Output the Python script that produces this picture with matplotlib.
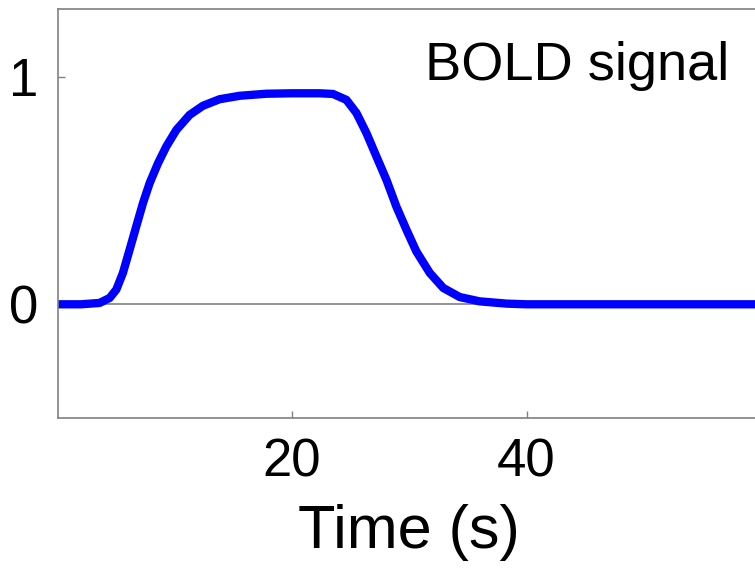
import matplotlib.pyplot as plt
from matplotlib import font_manager

# points
time_s = [0, 2.0, 3.59, 4.45, 5.02, 5.58, 6.15, 6.72, 7.29, 7.86, 8.57, 9.28,
          10.14, 11.27, 12.4, 13.83, 15.54, 17.8, 20.0, 22.36, 23.5, 24.64,
          25.5, 26.35, 27.2, 28.05, 28.9, 29.76, 30.6, 31.75, 32.9, 34.3,
          36.0, 38.3, 40.0, 45, 50, 55, 60]
bold = [0, 0, 0.006, 0.028, 0.065, 0.138, 0.24, 0.343, 0.445, 0.533, 0.62,
        0.694, 0.767, 0.833, 0.873, 0.902, 0.917, 0.926, 0.928, 0.928, 0.925,
        0.899, 0.841, 0.753, 0.65, 0.548, 0.43, 0.328, 0.233, 0.138, 0.072,
        0.032, 0.013, 0.003, 0.0, 0.0, 0.0, 0.0, 0.0]

xticks = [20, 40]
yticks = [0, 1]

# narrow face looks closer to the original, if it is there
names = {f.name for f in font_manager.fontManager.ttflist}
if 'Liberation Sans Narrow' in names:
    plt.rcParams['font.family'] = ['Liberation Sans Narrow', 'DejaVu Sans']
    tick_fs, label_fs, text_fs = 41, 47, 42
else:
    plt.rcParams['font.family'] = ['Liberation Sans', 'DejaVu Sans']
    tick_fs, label_fs, text_fs = 38, 44, 39

fig = plt.figure(figsize=(7.55, 5.72), dpi=100)
ax = fig.add_axes([57.5 / 755, 1 - 418 / 572, (761 - 57.5) / 755, (418 - 8.7) / 572])

ax.axhline(0, color='#808080', lw=1.2, zorder=1)
ax.plot(time_s, bold, color='#0000ff', lw=6, solid_joinstyle='round',
        solid_capstyle='butt', zorder=2)

ax.set_xlim(0, 60)
ax.set_ylim(-0.5, 1.3)
ax.set_xticks(xticks)
ax.set_yticks(yticks)

for s in ax.spines.values():
    s.set_color('#808080')
    s.set_linewidth(1.2)
ax.spines['right'].set_visible(False)

ax.tick_params(direction='in', length=5, width=1, color='#808080',
               labelsize=tick_fs, pad=14)
ax.set_xlabel('Time (s)', fontsize=label_fs, labelpad=12)

ax.text(57.3, 0.987, 'BOLD signal', fontsize=text_fs, ha='right', va='baseline')

plt.savefig('out.png', dpi=100)
